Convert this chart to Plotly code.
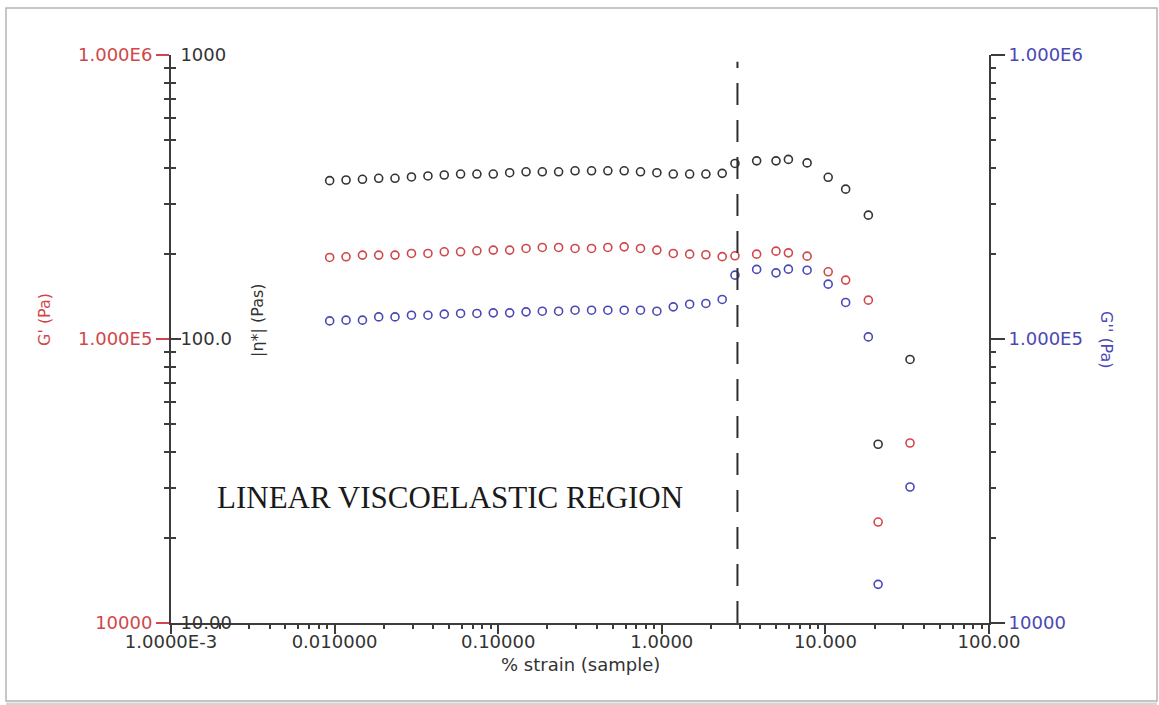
import plotly.graph_objects as go

# % strain of each oscillation step
strain = [0.00933, 0.01175, 0.0148, 0.0186, 0.0234, 0.0295, 0.0372, 0.0468, 0.0589, 0.0741,
          0.0933, 0.1175, 0.148, 0.186, 0.234, 0.295, 0.372, 0.468, 0.589, 0.741,
          0.933, 1.175, 1.48, 1.86, 2.34,
          2.80, 3.80, 4.99, 5.94, 7.73, 10.4, 13.3, 18.3, 21.0, 32.9]

# complex viscosity |eta*| (Pa.s)
eta = [361, 363, 365, 368, 368, 372, 375, 378, 381, 381,
       381, 385, 388, 388, 388, 391, 391, 391, 391, 388,
       385, 381, 381, 381, 383,
       415, 424, 424, 429, 417, 371, 337, 273, 42.6, 84.7]

# storage modulus G' (Pa)
g_storage = [193700, 194700, 197400, 197400, 197400, 200100, 200100, 202800, 202800, 204400,
             205600, 205600, 208400, 210100, 210100, 208400, 208400, 210100, 211100, 208400,
             205600, 200100, 199000, 198000, 195000,
             196300, 199000, 203900, 201100, 195800, 172400, 161200, 137000, 22670, 43030]

# loss modulus G'' (Pa)
g_loss = [115800, 116500, 116500, 119600, 119600, 121300, 121300, 122300, 123000, 123000,
          123600, 123600, 124600, 125300, 125300, 126300, 126300, 126300, 126300, 126300,
          125300, 129800, 132600, 133400, 137800,
          167800, 175800, 171000, 176200, 174700, 156000, 134500, 101700, 13680, 30120]

# end of the linear viscoelastic region (% strain)
lvr_limit = 2.9

x_tickvals = [0.001, 0.01, 0.1, 1, 10, 100]
x_ticktext = ["1.0000E-3", "0.010000", "0.10000", "1.0000", "10.000", "100.00"]
g_tickvals = [1e4, 1e5, 1e6]
g_ticktext = ["10000", "1.000E5", "1.000E6"]
eta_tickvals = [10, 100, 1000]
eta_ticktext = ["10.00", "100.0", "1000"]

RED = "#d0474b"
BLUE = "#4a48b4"
DARK = "#333333"
AXIS = "#3c3c3c"
TICK_FONT = dict(family="DejaVu Sans", size=18)

fig = go.Figure()

marker_common = dict(symbol="circle-open", size=8)
fig.add_trace(go.Scatter(x=strain, y=eta, mode="markers", yaxis="y2", name="|η*|",
                         marker=dict(color=DARK, line=dict(width=1.6, color=DARK), **marker_common)))
fig.add_trace(go.Scatter(x=strain, y=g_storage, mode="markers", yaxis="y", name="G'",
                         marker=dict(color=RED, line=dict(width=1.6, color=RED), **marker_common)))
fig.add_trace(go.Scatter(x=strain, y=g_loss, mode="markers", yaxis="y3", name="G''",
                         marker=dict(color=BLUE, line=dict(width=1.6, color=BLUE), **marker_common)))

fig.update_layout(
    width=1159, height=705, autosize=False,
    margin=dict(l=171, r=170, t=55, b=82),
    paper_bgcolor="white", plot_bgcolor="white",
    showlegend=False,
    font=dict(family="DejaVu Sans", color=DARK),
    xaxis=dict(
        type="log", range=[-3, 2], showgrid=False, zeroline=False,
        showline=True, linecolor=AXIS, linewidth=2,
        ticks="outside", ticklen=9, tickwidth=1.5, tickcolor=AXIS,
        ticklabelstandoff=-8,
        tickmode="array", tickvals=x_tickvals, ticktext=x_ticktext,
        tickfont=dict(color=DARK, **TICK_FONT),
        minor=dict(ticks="outside", ticklen=4, tickwidth=1.5, tickcolor=AXIS, dtick="D1", showgrid=False),
    ),
    yaxis=dict(
        type="log", range=[4, 6], side="left", showgrid=False, zeroline=False,
        showline=True, linecolor=AXIS, linewidth=2,
        ticks="outside", ticklen=13, tickwidth=1.5, tickcolor=RED,
        tickmode="array", tickvals=g_tickvals, ticktext=g_ticktext,
        tickfont=dict(color=RED, **TICK_FONT),
        minor=dict(ticks="outside", ticklen=5, tickwidth=1.5, tickcolor=AXIS, dtick="D1", showgrid=False),
    ),
    yaxis2=dict(
        type="log", range=[1, 3], overlaying="y", side="left", anchor="x",
        showgrid=False, zeroline=False, showline=False,
        ticks="inside", ticklen=10, tickwidth=1.5, tickcolor=AXIS,
        ticklabelposition="inside", ticklabeloverflow="allow",
        tickmode="array", tickvals=eta_tickvals, ticktext=eta_ticktext,
        tickfont=dict(color=DARK, **TICK_FONT),
        minor=dict(ticks="inside", ticklen=5, tickwidth=1.5, tickcolor=AXIS, dtick="D1", showgrid=False),
    ),
    yaxis3=dict(
        type="log", range=[4, 6], overlaying="y", side="right", anchor="x",
        showgrid=False, zeroline=False,
        showline=True, linecolor=AXIS, linewidth=2,
        ticks="outside", ticklen=14, tickwidth=1.5, tickcolor=AXIS,
        tickmode="array", tickvals=g_tickvals, ticktext=g_ticktext,
        tickfont=dict(color=BLUE, **TICK_FONT),
        minor=dict(ticks="outside", ticklen=5, tickwidth=1.5, tickcolor=AXIS, dtick="D1", showgrid=False),
    ),
)

# dashed marker at the end of the linear region
fig.add_shape(type="line", xref="x", yref="paper", x0=lvr_limit, x1=lvr_limit, y0=0, y1=0.988,
              line=dict(color="#2e2e2e", width=2, dash="22px,15px"))

# picture frame around the whole chart, with a soft shadow along the bottom edge
fig.add_shape(type="line", xref="paper", yref="paper", x0=-0.2017, x1=1.2054, y0=-0.1428, y1=-0.1428,
              line=dict(color="#d6d6d6", width=3), layer="below")
fig.add_shape(type="rect", xref="paper", yref="paper", x0=-0.2017, x1=1.2054, y0=-0.1373, y1=1.0827,
              line=dict(color="#b4b4b4", width=1.5), layer="below")

annotations = [
    dict(text="% strain (sample)", x=0.5, y=-0.0722, textangle=0, font=dict(color=DARK, size=18)),
    dict(text="G' (Pa)", x=-0.154, y=0.5335, textangle=-90, font=dict(color=RED, size=16)),
    dict(text="|η*| (Pas)", x=0.1064, y=0.5335, textangle=-90, font=dict(color=DARK, size=16)),
    dict(text="G'' (Pa)", x=1.1443, y=0.498, textangle=90, font=dict(color=BLUE, size=16)),
    dict(text="LINEAR VISCOELASTIC REGION", x=0.0538, y=0.2218, xanchor="left",
         font=dict(family="Liberation Serif", size=31, color="#1a1a1a")),
]
for a in annotations:
    a.setdefault("xanchor", "center")
    a.update(xref="paper", yref="paper", yanchor="middle", showarrow=False)
    fig.add_annotation(**a)

fig.write_html("out.html")
